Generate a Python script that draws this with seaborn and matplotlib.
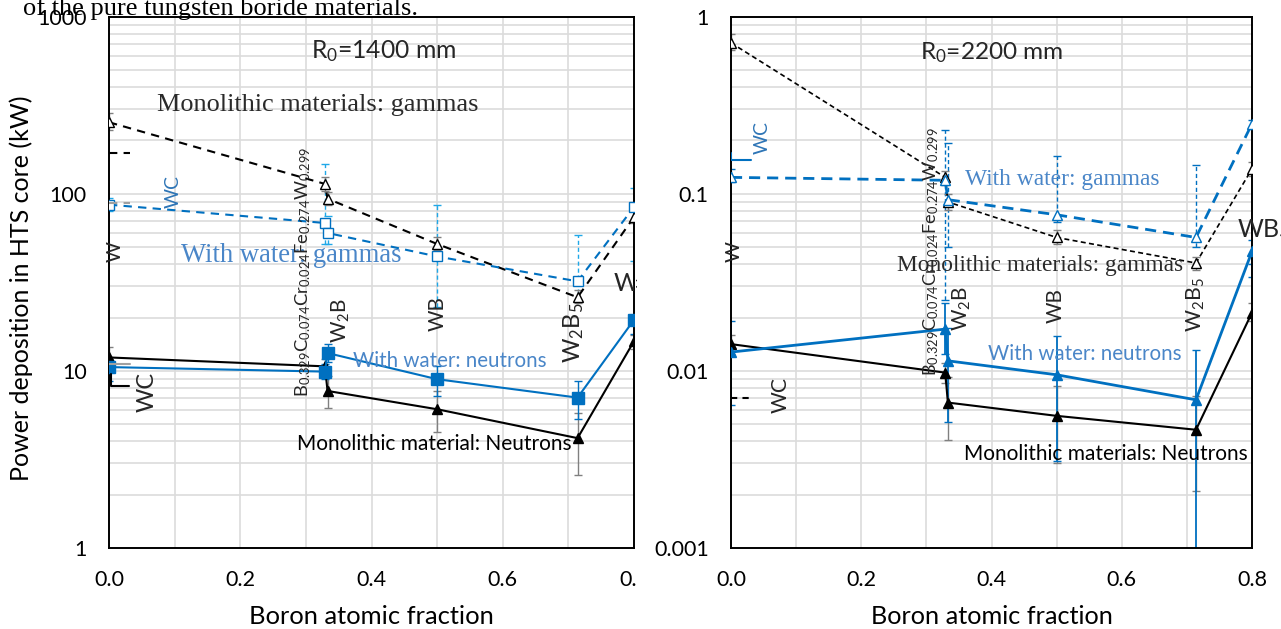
import numpy as np
import pandas as pd
import matplotlib
matplotlib.use("Agg")
import matplotlib.pyplot as plt
import seaborn as sns
from matplotlib.ticker import FixedLocator, MultipleLocator, NullFormatter, LogLocator
from matplotlib.patches import Rectangle

# ---------------- data ----------------
boron = [0.0, 0.329, 0.333, 0.5, 0.714, 0.8]
x_ticks = [0.0, 0.2, 0.4, 0.6, 0.8]
x_tick_labels = ["0.0", "0.2", "0.4", "0.6", "0.8"]

# R0 = 1400 mm
l_mono_gam = [253, 113.5, 93.7, 52, 26, 73.8]
l_mono_gam_lo = [230, 104, 86, 48, 24, 68]
l_mono_gam_hi = [285, 124, 102, 57, 28.5, 80]
l_wat_gam = [86.7, 68.3, 60, 44.2, 32, 84.1]
l_wat_gam_lo = [80, 52, 52, 23, 25, 41.5]
l_wat_gam_hi = [95, 147, 75, 86, 58.7, 108]
l_mono_neu = [11.9, 10.6, 7.7, 6.07, 4.17, 14.7]
l_mono_neu_lo = [10.5, 9.6, 6.2, 4.54, 2.58, 13.3]
l_mono_neu_hi = [13.7, 11.7, 9.3, 7.7, 5.8, 16.0]
l_wat_neu = [10.5, 9.9, 12.6, 8.97, 7.06, 19.4]
l_wat_neu_lo = [8.8, 9.0, 11.2, 7.2, 5.36, 16.1]
l_wat_neu_hi = [11.5, 10.9, 14.2, 10.7, 8.8, 20.7]
l_y_ticks = [1, 10, 100, 1000]
l_y_tick_labels = ["1", "10", "100", "1000"]

# R0 = 2200 mm
r_mono_gam = [0.71, 0.1236, 0.0898, 0.0566, 0.0406, 0.138]
r_mono_gam_lo = [0.65, 0.112, 0.081, 0.052, 0.037, 0.125]
r_mono_gam_hi = [0.80, 0.135, 0.100, 0.062, 0.044, 0.150]
r_wat_gam = [0.1236, 0.119, 0.0925, 0.076, 0.0566, 0.248]
r_wat_gam_lo = [0.117, 0.025, 0.05, 0.069, 0.05, 0.04]
r_wat_gam_hi = [0.137, 0.23, 0.194, 0.163, 0.146, 0.26]
r_mono_neu = [0.01415, 0.00977, 0.00662, 0.00557, 0.00465, 0.0213]
r_mono_neu_lo = [0.0125, 0.0085, 0.00407, 0.0030, 0.0021, 0.019]
r_mono_neu_hi = [0.016, 0.011, 0.0092, 0.0082, 0.0072, 0.0242]
r_wat_neu = [0.01276, 0.0172, 0.01139, 0.0095, 0.00686, 0.0472]
r_wat_neu_lo = [0.0064, 0.0125, 0.00515, 0.0031, 0.0003, 0.034]
r_wat_neu_hi = [0.019, 0.0242, 0.0175, 0.0158, 0.0131, 0.055]
r_y_ticks = [0.001, 0.01, 0.1, 1]
r_y_tick_labels = ["0.001", "0.01", "0.1", "1"]

# legend stubs left over in the original chart (value levels)
l_stub_black_dash = 170
l_stub_gray_dash = 89
l_stub_gray_solid = 10.9
l_stub_wc = [9.6, 8.2]
r_stub_blue = [0.17, 0.155]
r_stub_black_dash = 0.00706

material_labels = ["W", "B$_{0.329}$C$_{0.074}$Cr$_{0.024}$Fe$_{0.274}$W$_{0.299}$",
                   "W$_2$B", "WB", "W$_2$B$_5$", "WB$_4$"]

# ---------------- style ----------------
sns.set_theme(style="white")
plt.rcParams["font.family"] = ["Lato", "DejaVu Sans"]
plt.rcParams["mathtext.default"] = "regular"
SERIF = ["Liberation Serif", "DejaVu Serif"]

BLUE = "#0070c0"
LBLUE = "#1fa8e8"
GRAY = "#808080"
TXTBLUE = "#4a86c8"

W, H = 1281, 629
fig = plt.figure(figsize=(W / 100, H / 100), dpi=100)
fig.patch.set_facecolor("white")

ax1 = fig.add_axes([109 / W, (H - 548) / H, (634 - 109) / W, (548 - 16.5) / H])
ax2 = fig.add_axes([731 / W, (H - 548) / H, (1252 - 731) / W, (548 - 16.5) / H])


def style_axes(ax, ylim, yticks, ylabels):
    ax.set_yscale("log")
    ax.set_xlim(0, 0.8)
    ax.set_ylim(*ylim)
    ax.xaxis.set_major_locator(FixedLocator(x_ticks))
    ax.set_xticklabels(x_tick_labels)
    ax.xaxis.set_minor_locator(MultipleLocator(0.1))
    ax.yaxis.set_major_locator(FixedLocator(yticks))
    ax.set_yticklabels(ylabels)
    ax.yaxis.set_minor_locator(LogLocator(base=10, subs=np.arange(2, 10)))
    ax.yaxis.set_minor_formatter(NullFormatter())
    ax.grid(True, which="both", color="#dcdcdc", linewidth=1.2)
    ax.set_axisbelow(True)
    ax.tick_params(which="both", length=0, labelsize=15.5, colors="black")
    ax.tick_params(axis="y", pad=16)
    ax.tick_params(axis="x", pad=16)
    for s in ax.spines.values():
        s.set_visible(True)
        s.set_color("black")
        s.set_linewidth(1.4)
    ax.set_xlabel("Boron atomic fraction", fontsize=16, color="black")
    ax.xaxis.label.set_va("center")
    ax.xaxis.set_label_coords(0.5, (548 - 617) / 531.5)
    ax.set_facecolor("white")


def ebar(ax, y, lo, hi, color, dashed=False, lw=1.0):
    y = np.array(y); lo = np.array(lo); hi = np.array(hi)
    cont = ax.errorbar(boron, y, yerr=[y - lo, hi - y], fmt="none", ecolor=color,
                       elinewidth=lw, capsize=3, capthick=1, zorder=2)
    if dashed:
        for lc in cont[2]:
            lc.set_linestyle((0, (3, 2)))


def series(ax, y, color, marker, mfc, ls, lw, ms):
    df = pd.DataFrame({"x": boron, "y": y})
    sns.lineplot(data=df, x="x", y="y", ax=ax, sort=False, estimator=None,
                 color=color, marker=marker, markersize=ms, markerfacecolor=mfc,
                 markeredgecolor=color, markeredgewidth=1.0, linestyle=ls,
                 linewidth=lw, zorder=3)


style_axes(ax1, (1, 1000), l_y_ticks, l_y_tick_labels)
style_axes(ax2, (0.001, 1), r_y_ticks, r_y_tick_labels)
ax1.set_ylabel("Power deposition in HTS core (kW)", fontsize=16, color="black")
ax1.yaxis.set_label_coords((33 - 109) / 525, (548 - 288) / 531.5)
ax2.set_ylabel("")

# ---- left panel ----
ebar(ax1, l_wat_gam, l_wat_gam_lo, l_wat_gam_hi, LBLUE, dashed=True)
ebar(ax1, l_mono_gam, l_mono_gam_lo, l_mono_gam_hi, GRAY)
ebar(ax1, l_mono_neu, l_mono_neu_lo, l_mono_neu_hi, GRAY)
ebar(ax1, l_wat_neu, l_wat_neu_lo, l_wat_neu_hi, BLUE)
series(ax1, l_mono_gam, "black", "^", "white", (0, (4, 3)), 1.5, 7)
series(ax1, l_wat_gam, BLUE, "s", "white", (0, (4, 3)), 1.5, 7.5)
series(ax1, l_mono_neu, "black", "^", "black", "-", 1.5, 7)
series(ax1, l_wat_neu, BLUE, "s", BLUE, "-", 1.5, 8)

ax1.plot([0, 0.032], [l_stub_black_dash] * 2, color="black", lw=1.5, ls=(0, (4, 3)), zorder=3)
ax1.plot([0, 0.032], [l_stub_gray_dash] * 2, color="#a0a0a0", lw=1.5, ls=(0, (4, 3)), zorder=3)
ax1.plot([0, 0.032], [l_stub_gray_solid] * 2, color="#a0a0a0", lw=1.5, zorder=3)
ax1.plot([0.003, 0.003, 0.03], [l_stub_wc[0], l_stub_wc[1], l_stub_wc[1]], color="black", lw=1.5, zorder=3)

# ---- right panel ----
ebar(ax2, r_wat_gam, r_wat_gam_lo, r_wat_gam_hi, BLUE, dashed=True)
ebar(ax2, r_mono_gam, r_mono_gam_lo, r_mono_gam_hi, GRAY)
ebar(ax2, r_mono_neu, r_mono_neu_lo, r_mono_neu_hi, GRAY)
ebar(ax2, r_wat_neu, r_wat_neu_lo, r_wat_neu_hi, BLUE, lw=1.3)
series(ax2, r_mono_gam, "black", "^", "white", (0, (3, 2)), 1.2, 6.5)
series(ax2, r_wat_gam, BLUE, "^", "white", (0, (4, 2.5)), 2.0, 6.5)
series(ax2, r_mono_neu, "black", "^", "black", "-", 1.5, 6.5)
series(ax2, r_wat_neu, BLUE, "^", BLUE, "-", 2.0, 6.5)

ax2.plot([0.0, 0.0, 0.03], [r_stub_blue[0], r_stub_blue[1], r_stub_blue[1]], color=BLUE, lw=1.5, zorder=3)
ax2.plot([0, 0.027], [r_stub_black_dash] * 2, color="black", lw=1.5, ls=(0, (3, 2.5)), zorder=3)

for ax in (ax1, ax2):
    leg = ax.get_legend()
    if leg is not None:
        leg.remove()

renderer = fig.canvas.get_renderer()


def fit(txt, target, vertical=False):
    """scale a text's font size so that its length matches the reference (pixels)"""
    bb = txt.get_window_extent(renderer)
    cur = bb.height if vertical else bb.width
    txt.set_fontsize(txt.get_fontsize() * target / cur)
    return txt


# ---------------- annotations (figure pixel coords) ----------------
def t(x, y, s, target=None, vertical=False, clip_ax=None, **kw):
    if vertical:
        kw.setdefault("rotation", 90)
    kw.setdefault("ha", "center")
    kw.setdefault("va", "center")
    if clip_ax is not None:
        txt = clip_ax.text(x / W, 1 - y / H, s, transform=fig.transFigure, clip_on=True, **kw)
    else:
        txt = fig.text(x / W, 1 - y / H, s, **kw)
    if target is not None:
        fit(txt, target, vertical)
    return txt


# left panel
t(384, 51, "R$_0$=1400 mm", 145, fontsize=17)
t(318, 105, "Monolithic materials: gammas", 321, fontsize=18, family=SERIF, color="#2a2a2a")
t(291, 256, "With water: gammas", 221, fontsize=17.5, family=SERIF, color=TXTBLUE)
t(450, 361, "With water: neutrons", 193, fontsize=14.5, color=TXTBLUE)
t(434, 444, "Monolithic material: Neutrons", 275, fontsize=14.5, color="black")
t(173, 191, "WC", 33, True, fontsize=16, color="#2e75b6")
t(115, 252, material_labels[0], 21, True, fontsize=17)
t(147, 392, "WC", 40, True, fontsize=19)
t(303, 272, material_labels[1], 250, True, fontsize=16)
t(341, 320, material_labels[2], 45, True, fontsize=16)
t(438, 314, material_labels[3], 35, True, fontsize=16)
t(574, 333, material_labels[4], 61, True, fontsize=16)
t(613, 284, material_labels[5], fontsize=18, ha="left", clip_ax=ax1)

# right panel
t(992, 53, "R$_0$=2200 mm", 144, fontsize=17)
t(1040, 265, "Monolithic materials: gammas", 285, fontsize=16, family=SERIF, color="#2a2a2a")
t(1062, 180, "With water: gammas", 195, fontsize=16, family=SERIF, color=TXTBLUE)
t(1085, 354, "With water: neutrons", 193, fontsize=14.5, color=TXTBLUE)
t(1106, 454, "Monolithic materials: Neutrons", 283, fontsize=14.5, color="black")
t(762, 137, "WC", 33, True, fontsize=16, color="#2e75b6")
t(734, 252, material_labels[0], 21, True, fontsize=17)
t(781, 395, "WC", 36, True, fontsize=18)
t(931, 252, material_labels[1], 249, True, fontsize=16)
t(962, 308, material_labels[2], 45, True, fontsize=16)
t(1056, 306, material_labels[3], 35, True, fontsize=16)
t(1196, 305, material_labels[4], 55, True, fontsize=16)
t(1237, 230, material_labels[5], fontsize=18, ha="left")

# page caption cut off at the top
t(23, 15, "of the pure tungsten boride materials.", 394, fontsize=18, family=SERIF,
  color="black", ha="left", va="baseline")

# axis labels sized to the reference
fit(ax1.xaxis.label, 245)
fit(ax2.xaxis.label, 243)
fit(ax1.yaxis.label, 387, vertical=True)

# crop of the left chart area
fig.patches.append(Rectangle((636.5 / W, 0), 12.5 / W, 1, transform=fig.transFigure,
                             facecolor="white", edgecolor="none", zorder=5))

fig.savefig("out.png", dpi=100, facecolor="white")
